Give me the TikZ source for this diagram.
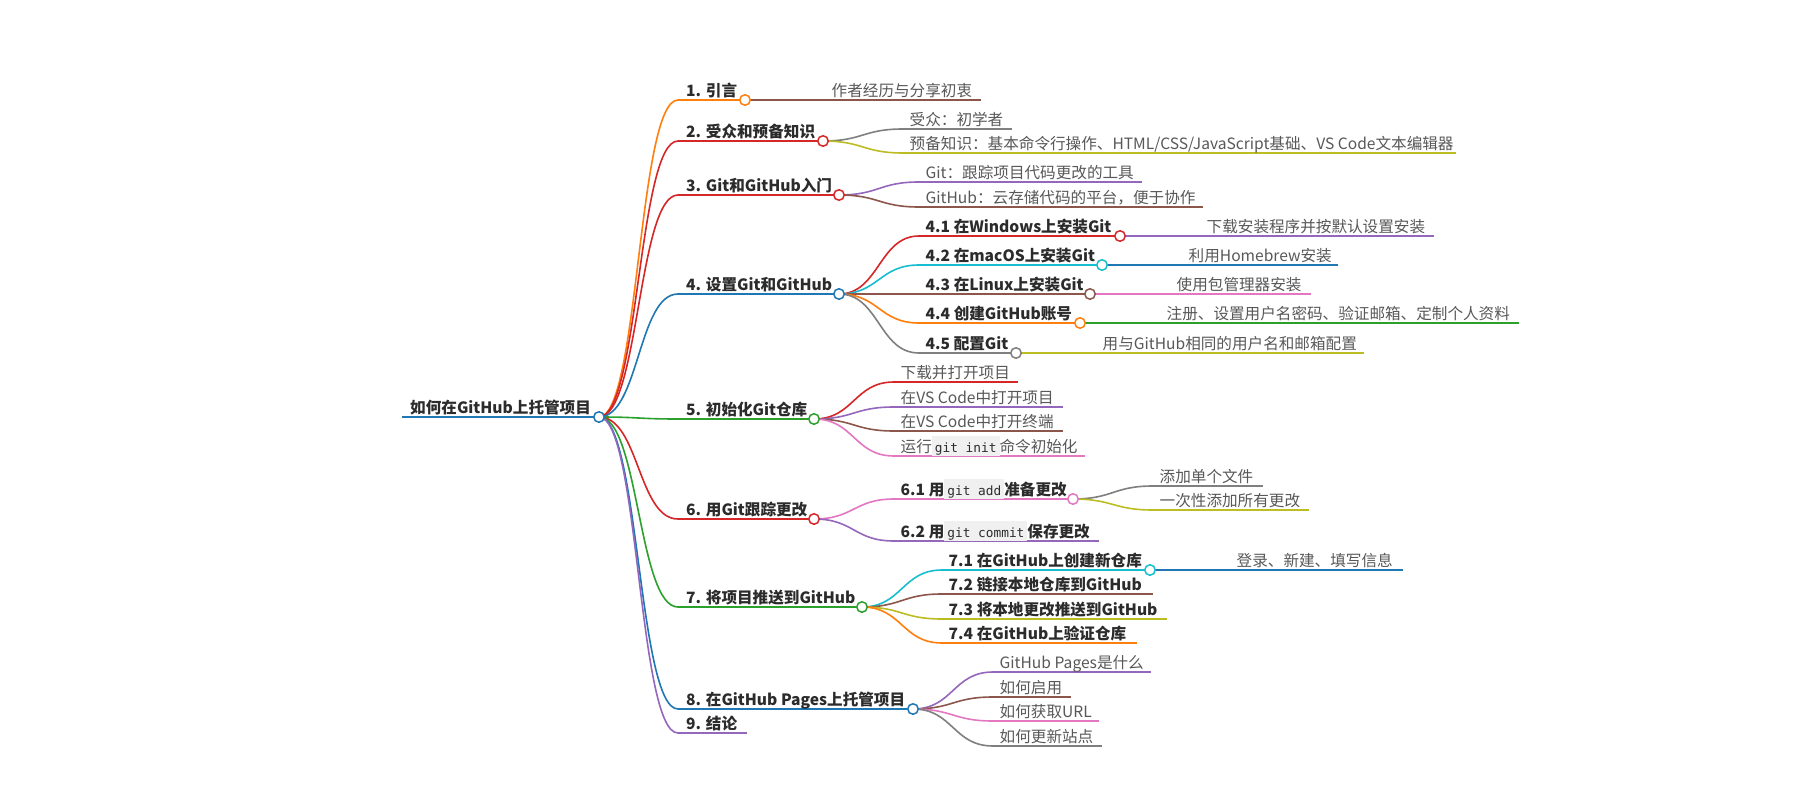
\documentclass[tikz,border=0pt]{standalone}
\usepackage{fontspec}
\setmainfont{Noto Sans CJK SC}
\newfontfamily\codefont{DejaVu Sans Mono}
\usetikzlibrary{calc}
\definecolor{cBlue}{HTML}{1F77B4}
\definecolor{cOrange}{HTML}{FF7F0E}
\definecolor{cGreen}{HTML}{2CA02C}
\definecolor{cRed}{HTML}{D62728}
\definecolor{cPurple}{HTML}{9467BD}
\definecolor{cBrown}{HTML}{8C564B}
\definecolor{cPink}{HTML}{E377C2}
\definecolor{cGray}{HTML}{7F7F7F}
\definecolor{cOlive}{HTML}{BCBD22}
\definecolor{cCyan}{HTML}{17BECF}
\definecolor{txtDark}{HTML}{2B2B2B}
\definecolor{txtLeaf}{HTML}{585858}
\definecolor{codeBg}{HTML}{F0F0F0}
\newcommand\inlinecode[1]{{\setlength{\fboxsep}{0pt}\colorbox{codeBg}{\rule[-4pt]{0pt}{20pt}\hspace{3pt}{\codefont\mdseries\fontsize{12.8}{14}\selectfont\color{txtDark}#1}\hspace{3pt}}}}
\tikzset{
  btxt/.style={anchor=base west, inner sep=0pt, text=txtDark, font=\bfseries\fontsize{15.6}{18}\selectfont},
  ltxt/.style={anchor=base west, inner sep=0pt, text=txtLeaf, font=\fontsize{15.6}{18}\selectfont},
  ul/.style={draw=#1, line width=1.6pt},
  lk/.style={draw=#1, line width=1.6pt},
  knob/.style={circle, draw=#1, fill=white, line width=1.5pt, minimum size=10.5pt, inner sep=0pt},
  br/.style={to path={.. controls ($(\tikztostart)+(40,0)$) and ($(\tikztotarget)-(40,0)$) .. (\tikztotarget)}}
}
\begin{document}
\begin{tikzpicture}[x=1pt, y=-1pt]
\fill[white] (0,0) rectangle (1800,800);
\useasboundingbox (0,0) rectangle (1800,800);

% ---------- coordinates ----------
% root
\coordinate (s0) at (402,417); \coordinate (e0) at (599,417);
% level 1
\coordinate (s1) at (678,100); \coordinate (e1) at (745,100);
\coordinate (s2) at (678,141); \coordinate (e2) at (823,141);
\coordinate (s3) at (678,195); \coordinate (e3) at (839,195);
\coordinate (s4) at (678,294); \coordinate (e4) at (839,294);
\coordinate (s5) at (678,419); \coordinate (e5) at (814,419);
\coordinate (s6) at (678,519); \coordinate (e6) at (814,519);
\coordinate (s7) at (678,607); \coordinate (e7) at (862,607);
\coordinate (s8) at (678,709); \coordinate (e8) at (913,709);
\coordinate (s9) at (678,733); \coordinate (e9) at (747,733);
% under 1
\coordinate (s1a) at (825,100); \coordinate (e1a) at (981,100);
% under 2
\coordinate (s2a) at (903,129); \coordinate (e2a) at (1012,129);
\coordinate (s2b) at (903,153); \coordinate (e2b) at (1456,153);
% under 3
\coordinate (s3a) at (919,182); \coordinate (e3a) at (1142,182);
\coordinate (s3b) at (919,207); \coordinate (e3b) at (1203,207);
% under 4
\coordinate (s41) at (919,236); \coordinate (e41) at (1120,236);
\coordinate (s42) at (919,265); \coordinate (e42) at (1102,265);
\coordinate (s43) at (919,294); \coordinate (e43) at (1090,294);
\coordinate (s44) at (919,323); \coordinate (e44) at (1080,323);
\coordinate (s45) at (919,353); \coordinate (e45) at (1016,353);
\coordinate (s41a) at (1200,236); \coordinate (e41a) at (1434,236);
\coordinate (s42a) at (1182,265); \coordinate (e42a) at (1338,265);
\coordinate (s43a) at (1170,294); \coordinate (e43a) at (1311,294);
\coordinate (s44a) at (1160,323); \coordinate (e44a) at (1519,323);
\coordinate (s45a) at (1096,353); \coordinate (e45a) at (1364,353);
% under 5
\coordinate (s5a) at (894,382); \coordinate (e5a) at (1018,382);
\coordinate (s5b) at (894,407); \coordinate (e5b) at (1063,407);
\coordinate (s5c) at (894,431); \coordinate (e5c) at (1063,431);
\coordinate (s5d) at (894,456); \coordinate (e5d) at (1085,456);
% under 6
\coordinate (s61) at (894,499); \coordinate (e61) at (1073,499);
\coordinate (s62) at (894,541); \coordinate (e62) at (1099,541);
\coordinate (s61a) at (1153,486); \coordinate (e61a) at (1263,486);
\coordinate (s61b) at (1153,510); \coordinate (e61b) at (1309,510);
% under 7
\coordinate (s71) at (942,570); \coordinate (e71) at (1150,570);
\coordinate (s72) at (942,594); \coordinate (e72) at (1153,594);
\coordinate (s73) at (942,619); \coordinate (e73) at (1167,619);
\coordinate (s74) at (942,643); \coordinate (e74) at (1137,643);
\coordinate (s71a) at (1230,570); \coordinate (e71a) at (1403,570);
% under 8
\coordinate (s8a) at (993,672); \coordinate (e8a) at (1151,672);
\coordinate (s8b) at (993,697); \coordinate (e8b) at (1071,697);
\coordinate (s8c) at (993,721); \coordinate (e8c) at (1099,721);
\coordinate (s8d) at (993,746); \coordinate (e8d) at (1102,746);

% ---------- links ----------
\draw[lk=cOrange] (e0) to[br] (s1);
\draw[lk=cRed]    (e0) to[br] (s2);
\draw[lk=cRed]    (e0) to[br] (s3);
\draw[lk=cBlue]   (e0) to[br] (s4);
\draw[lk=cGreen]  (e0) to[br] (s5);
\draw[lk=cRed]    (e0) to[br] (s6);
\draw[lk=cGreen]  (e0) to[br] (s7);
\draw[lk=cBlue]   (e0) to[br] (s8);
\draw[lk=cPurple] (e0) to[br] (s9);

\draw[lk=cBrown]  (e1) to[br] (s1a);
\draw[lk=cGray]   (e2) to[br] (s2a);
\draw[lk=cOlive]  (e2) to[br] (s2b);
\draw[lk=cPurple] (e3) to[br] (s3a);
\draw[lk=cBrown]  (e3) to[br] (s3b);
\draw[lk=cRed]    (e4) to[br] (s41);
\draw[lk=cCyan]   (e4) to[br] (s42);
\draw[lk=cBrown]  (e4) to[br] (s43);
\draw[lk=cOrange] (e4) to[br] (s44);
\draw[lk=cGray]   (e4) to[br] (s45);
\draw[lk=cPurple] (e41) to[br] (s41a);
\draw[lk=cBlue]   (e42) to[br] (s42a);
\draw[lk=cPink]   (e43) to[br] (s43a);
\draw[lk=cGreen]  (e44) to[br] (s44a);
\draw[lk=cOlive]  (e45) to[br] (s45a);
\draw[lk=cRed]    (e5) to[br] (s5a);
\draw[lk=cPurple] (e5) to[br] (s5b);
\draw[lk=cBrown]  (e5) to[br] (s5c);
\draw[lk=cPink]   (e5) to[br] (s5d);
\draw[lk=cPink]   (e6) to[br] (s61);
\draw[lk=cPurple] (e6) to[br] (s62);
\draw[lk=cGray]   (e61) to[br] (s61a);
\draw[lk=cOlive]  (e61) to[br] (s61b);
\draw[lk=cCyan]   (e7) to[br] (s71);
\draw[lk=cBrown]  (e7) to[br] (s72);
\draw[lk=cOlive]  (e7) to[br] (s73);
\draw[lk=cOrange] (e7) to[br] (s74);
\draw[lk=cBlue]   (e71) to[br] (s71a);
\draw[lk=cPurple] (e8) to[br] (s8a);
\draw[lk=cBrown]  (e8) to[br] (s8b);
\draw[lk=cPink]   (e8) to[br] (s8c);
\draw[lk=cGray]   (e8) to[br] (s8d);

% ---------- underlines ----------
\draw[ul=cBlue,line width=2pt] (s0) -- (e0);
\draw[ul=cOrange] (s1) -- (e1);
\draw[ul=cRed]    (s2) -- (e2);
\draw[ul=cRed]    (s3) -- (e3);
\draw[ul=cBlue]   (s4) -- (e4);
\draw[ul=cGreen]  (s5) -- (e5);
\draw[ul=cRed]    (s6) -- (e6);
\draw[ul=cGreen]  (s7) -- (e7);
\draw[ul=cBlue]   (s8) -- (e8);
\draw[ul=cPurple] (s9) -- (e9);
\draw[ul=cBrown]  (s1a) -- (e1a);
\draw[ul=cGray]   (s2a) -- (e2a);
\draw[ul=cOlive]  (s2b) -- (e2b);
\draw[ul=cPurple] (s3a) -- (e3a);
\draw[ul=cBrown]  (s3b) -- (e3b);
\draw[ul=cRed]    (s41) -- (e41);
\draw[ul=cCyan]   (s42) -- (e42);
\draw[ul=cBrown]  (s43) -- (e43);
\draw[ul=cOrange] (s44) -- (e44);
\draw[ul=cGray]   (s45) -- (e45);
\draw[ul=cPurple] (s41a) -- (e41a);
\draw[ul=cBlue]   (s42a) -- (e42a);
\draw[ul=cPink]   (s43a) -- (e43a);
\draw[ul=cGreen]  (s44a) -- (e44a);
\draw[ul=cOlive]  (s45a) -- (e45a);
\draw[ul=cRed]    (s5a) -- (e5a);
\draw[ul=cPurple] (s5b) -- (e5b);
\draw[ul=cBrown]  (s5c) -- (e5c);
\draw[ul=cPink]   (s5d) -- (e5d);
\draw[ul=cPink]   (s61) -- (e61);
\draw[ul=cPurple] (s62) -- (e62);
\draw[ul=cGray]   (s61a) -- (e61a);
\draw[ul=cOlive]  (s61b) -- (e61b);
\draw[ul=cCyan]   (s71) -- (e71);
\draw[ul=cBrown]  (s72) -- (e72);
\draw[ul=cOlive]  (s73) -- (e73);
\draw[ul=cOrange] (s74) -- (e74);
\draw[ul=cBlue]   (s71a) -- (e71a);
\draw[ul=cPurple] (s8a) -- (e8a);
\draw[ul=cBrown]  (s8b) -- (e8b);
\draw[ul=cPink]   (s8c) -- (e8c);
\draw[ul=cGray]   (s8d) -- (e8d);

% ---------- texts ----------
\node[btxt] (t0) at ($(s0)+(8,-4)$) {如何在GitHub上托管项目};
\node[btxt] (t1) at ($(s1)+(8,-4)$) {1. 引言};
\node[btxt] (t2) at ($(s2)+(8,-4)$) {2. 受众和预备知识};
\node[btxt] (t3) at ($(s3)+(8,-4)$) {3. Git和GitHub入门};
\node[btxt] (t4) at ($(s4)+(8,-4)$) {4. 设置Git和GitHub};
\node[btxt] (t5) at ($(s5)+(8,-4)$) {5. 初始化Git仓库};
\node[btxt] (t6) at ($(s6)+(8,-4)$) {6. 用Git跟踪更改};
\node[btxt] (t7) at ($(s7)+(8,-4)$) {7. 将项目推送到GitHub};
\node[btxt] (t8) at ($(s8)+(8,-4)$) {8. 在GitHub Pages上托管项目};
\node[btxt] (t9) at ($(s9)+(8,-4)$) {9. 结论};

\node[ltxt] (t1a) at ($(s1a)+(6.5,-4)$) {作者经历与分享初衷};
\node[ltxt] (t2a) at ($(s2a)+(6.5,-4)$) {受众：初学者};
\node[ltxt] (t2b) at ($(s2b)+(6.5,-4)$) {预备知识：基本命令行操作、HTML/CSS/JavaScript基础、VS Code文本编辑器};
\node[ltxt] (t3a) at ($(s3a)+(6.5,-4)$) {Git：跟踪项目代码更改的工具};
\node[ltxt] (t3b) at ($(s3b)+(6.5,-4)$) {GitHub：云存储代码的平台，便于协作};

\node[btxt] (t41) at ($(s41)+(6.5,-4)$) {4.1 在Windows上安装Git};
\node[btxt] (t42) at ($(s42)+(6.5,-4)$) {4.2 在macOS上安装Git};
\node[btxt] (t43) at ($(s43)+(6.5,-4)$) {4.3 在Linux上安装Git};
\node[btxt] (t44) at ($(s44)+(6.5,-4)$) {4.4 创建GitHub账号};
\node[btxt] (t45) at ($(s45)+(6.5,-4)$) {4.5 配置Git};
\node[ltxt] (t41a) at ($(s41a)+(6.5,-4)$) {下载安装程序并按默认设置安装};
\node[ltxt] (t42a) at ($(s42a)+(6.5,-4)$) {利用Homebrew安装};
\node[ltxt] (t43a) at ($(s43a)+(6.5,-4)$) {使用包管理器安装};
\node[ltxt] (t44a) at ($(s44a)+(6.5,-4)$) {注册、设置用户名密码、验证邮箱、定制个人资料};
\node[ltxt] (t45a) at ($(s45a)+(6.5,-4)$) {用与GitHub相同的用户名和邮箱配置};

\node[ltxt] (t5a) at ($(s5a)+(6.5,-4)$) {下载并打开项目};
\node[ltxt] (t5b) at ($(s5b)+(6.5,-4)$) {在VS Code中打开项目};
\node[ltxt] (t5c) at ($(s5c)+(6.5,-4)$) {在VS Code中打开终端};
\node[ltxt] (t5d) at ($(s5d)+(6.5,-4)$) {运行\inlinecode{git init}命令初始化};

\node[btxt] (t61) at ($(s61)+(6.5,-4)$) {6.1 用\inlinecode{git add}准备更改};
\node[btxt] (t62) at ($(s62)+(6.5,-4)$) {6.2 用\inlinecode{git commit}保存更改};
\node[ltxt] (t61a) at ($(s61a)+(6.5,-4)$) {添加单个文件};
\node[ltxt] (t61b) at ($(s61b)+(6.5,-4)$) {一次性添加所有更改};

\node[btxt] (t71) at ($(s71)+(6.5,-4)$) {7.1 在GitHub上创建新仓库};
\node[btxt] (t72) at ($(s72)+(6.5,-4)$) {7.2 链接本地仓库到GitHub};
\node[btxt] (t73) at ($(s73)+(6.5,-4)$) {7.3 将本地更改推送到GitHub};
\node[btxt] (t74) at ($(s74)+(6.5,-4)$) {7.4 在GitHub上验证仓库};
\node[ltxt] (t71a) at ($(s71a)+(6.5,-4)$) {登录、新建、填写信息};

\node[ltxt] (t8a) at ($(s8a)+(6.5,-4)$) {GitHub Pages是什么};
\node[ltxt] (t8b) at ($(s8b)+(6.5,-4)$) {如何启用};
\node[ltxt] (t8c) at ($(s8c)+(6.5,-4)$) {如何获取URL};
\node[ltxt] (t8d) at ($(s8d)+(6.5,-4)$) {如何更新站点};

% ---------- knobs ----------
\node[knob=cBlue]   (k0) at (e0) {};
\node[knob=cOrange] (k1) at (e1) {};
\node[knob=cRed]    (k2) at (e2) {};
\node[knob=cRed]    (k3) at (e3) {};
\node[knob=cBlue]   (k4) at (e4) {};
\node[knob=cGreen]  (k5) at (e5) {};
\node[knob=cRed]    (k6) at (e6) {};
\node[knob=cGreen]  (k7) at (e7) {};
\node[knob=cBlue]   (k8) at (e8) {};
\node[knob=cRed]    (k41) at (e41) {};
\node[knob=cCyan]   (k42) at (e42) {};
\node[knob=cBrown]  (k43) at (e43) {};
\node[knob=cOrange] (k44) at (e44) {};
\node[knob=cGray]   (k45) at (e45) {};
\node[knob=cPink]   (k61) at (e61) {};
\node[knob=cCyan]   (k71) at (e71) {};
\end{tikzpicture}
\end{document}
